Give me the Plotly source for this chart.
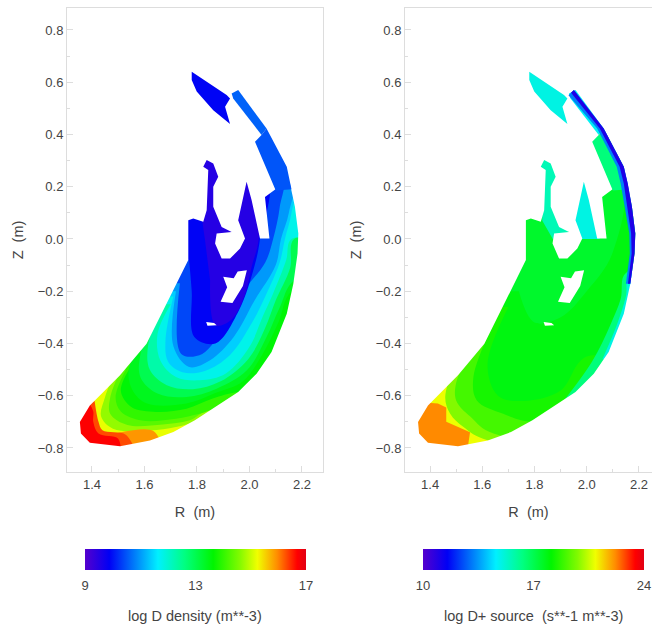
import plotly.graph_objects as go
from plotly.colors import sample_colorscale

W, H = 652, 629

RAINBOW = [
    [0.00, "rgb(85,0,205)"], [0.11, "rgb(0,0,245)"], [0.33, "rgb(0,240,255)"],
    [0.45, "rgb(0,255,130)"], [0.58, "rgb(0,245,0)"], [0.70, "rgb(130,250,0)"],
    [0.78, "rgb(240,255,0)"], [0.87, "rgb(255,140,0)"], [0.96, "rgb(255,0,0)"],
    [1.00, "rgb(225,0,20)"],
]

DENSITY_RANGE = [9, 17]
SOURCE_RANGE = [10, 24]
DENSITY_TICKS = [9, 13, 17]
SOURCE_TICKS = [10, 17, 24]
R_TICKS = [1.4, 1.6, 1.8, 2.0, 2.2]
Z_TICKS = [0.8, 0.6, 0.4, 0.2, 0.0, -0.2, -0.4, -0.6, -0.8]

# Outline of the plasma mesh (R, Z in metres), clockwise
OUTLINE_R = [2.154, 2.173, 2.186, 2.183, 2.167, 2.142, 2.084, 2.027, 1.957, 1.862, 1.792, 1.710, 1.621, 1.507,
             1.392, 1.358, 1.354, 1.392, 1.507, 1.608, 1.697, 1.767, 1.767, 1.786, 1.824, 1.837, 1.843, 1.824,
             1.837, 1.862, 1.881, 1.862, 1.862, 1.894, 1.932, 1.875, 1.869, 1.894, 1.926, 1.964, 1.983, 1.957,
             1.989, 2.008, 2.040, 2.076, 2.059, 2.103]
OUTLINE_Z = [0.212, 0.123, 0.021, -0.056, -0.171, -0.286, -0.433, -0.516, -0.586, -0.650, -0.694, -0.739, -0.771,
             -0.793, -0.780, -0.745, -0.701, -0.637, -0.522, -0.401, -0.222, -0.081, 0.072, 0.078, 0.066, 0.110,
             0.264, 0.276, 0.302, 0.289, 0.238, 0.200, 0.123, 0.046, 0.027, 0.021, -0.017, -0.075, -0.075, -0.037,
             0.002, 0.072, 0.219, 0.149, 0.002, 0.002, 0.161, 0.193]

HOLE_R = [1.955, 1.99, 1.975, 1.955, 1.935, 1.89, 1.915, 1.90, 1.94]
HOLE_Z = [-0.125, -0.12, -0.18, -0.21, -0.245, -0.24, -0.185, -0.145, -0.15]
SPOT_R = [1.835, 1.865, 1.875, 1.84]
SPOT_Z = [-0.318, -0.322, -0.33, -0.332]

TIP_R = [1.78, 1.913, 1.926, 1.907, 1.926, 1.862, 1.799, 1.78]
TIP_Z = [0.64, 0.551, 0.538, 0.506, 0.44, 0.493, 0.564, 0.608]
UPPER_R = [1.932, 1.957, 2.065, 2.046, 1.938]
UPPER_Z = [0.557, 0.57, 0.423, 0.398, 0.538]
LOWER_R = [2.046, 2.065, 2.142, 2.160, 2.100, 2.021]
LOWER_Z = [0.398, 0.423, 0.276, 0.190, 0.185, 0.372]

# Density isobands, painted from the outer level to the inner one
DENSITY_BASE = 15.2
DENSITY_LEVELS = [14.7, 14.3, 14.0, 13.6, 13.4, 13.0, 12.3, 11.8, 11.4, 11.0, 10.4, 9.9]
DENSITY_BAND_R = [
    [1.50, 1.45, 1.435, 1.48, 1.62, 1.72, 1.81, 1.87, 2.4, 2.4, 1.3, 1.3],
    [1.515, 1.47, 1.47, 1.535, 1.67, 1.77, 1.85, 2.4, 2.4, 1.3, 1.3],
    [1.53, 1.49, 1.51, 1.59, 1.72, 1.81, 1.88, 2.4, 2.4, 1.3, 1.3],
    [1.56, 1.51, 1.55, 1.645, 1.76, 1.86, 1.96, 2.4, 2.4, 1.3, 1.3],
    [1.60, 1.54, 1.555, 1.61, 1.76, 1.87, 1.975, 2.05, 2.11, 2.16, 2.4, 2.4, 1.3, 1.3],
    [1.65, 1.585, 1.585, 1.65, 1.76, 1.875, 1.99, 2.065, 2.116, 2.17, 2.4, 2.4, 1.3, 1.3],
    [1.67, 1.615, 1.62, 1.685, 1.785, 1.89, 1.995, 2.06, 2.10, 2.155, 2.17, 2.4, 2.4, 1.3, 1.3],
    [1.70, 1.65, 1.66, 1.72, 1.81, 1.91, 2.0, 2.05, 2.09, 2.14, 2.16, 2.4, 2.4, 1.3, 1.3],
    [1.71, 1.68, 1.69, 1.745, 1.83, 1.925, 2.01, 2.06, 2.115, 2.135, 2.16, 2.17, 1.3, 1.3],
    [1.72, 1.71, 1.77, 1.85, 1.94, 2.02, 2.10, 2.12, 2.15, 2.16, 1.3, 1.3],
    [1.735, 1.74, 1.82, 1.91, 1.985, 2.06, 2.09, 2.115, 2.12, 1.3, 1.3],
    [1.77, 1.78, 1.79, 1.87, 1.96, 2.02, 2.04, 2.06, 1.3, 1.3],
]
DENSITY_BAND_Z = [
    [-0.48, -0.605, -0.68, -0.726, -0.733, -0.72, -0.694, -0.66, -0.66, 0.4, 0.4, -0.48],
    [-0.49, -0.605, -0.67, -0.712, -0.71, -0.695, -0.655, -0.655, 0.4, 0.4, -0.49],
    [-0.50, -0.605, -0.66, -0.695, -0.688, -0.669, -0.65, -0.65, 0.4, 0.4, -0.50],
    [-0.47, -0.58, -0.643, -0.662, -0.65, -0.611, -0.586, -0.586, 0.4, 0.4, -0.47],
    [-0.38, -0.50, -0.58, -0.63, -0.63, -0.59, -0.545, -0.44, -0.32, -0.2, -0.12, 0.4, 0.4, -0.38],
    [-0.28, -0.44, -0.53, -0.592, -0.605, -0.573, -0.503, -0.375, -0.26, -0.158, -0.1, 0.4, 0.4, -0.28],
    [-0.26, -0.40, -0.50, -0.56, -0.575, -0.545, -0.46, -0.34, -0.235, -0.11, 0.0, 0.0, 0.4, 0.4, -0.26],
    [-0.25, -0.362, -0.464, -0.528, -0.541, -0.515, -0.413, -0.298, -0.209, -0.08, 0.0, 0.0, 0.4, 0.4, -0.25],
    [-0.22, -0.39, -0.47, -0.51, -0.505, -0.445, -0.32, -0.22, -0.09, 0.0, 0.1, 0.25, 0.25, -0.22],
    [-0.2, -0.41, -0.49, -0.464, -0.375, -0.235, -0.10, 0.0, 0.1, 0.25, 0.25, -0.2],
    [-0.17, -0.44, -0.44, -0.324, -0.19, -0.09, 0.0, 0.12, 0.25, 0.25, -0.17],
    [-0.08, -0.2, -0.375, -0.40, -0.273, -0.10, 0.0, 0.25, 0.25, -0.08],
]
DENSITY_CORE = 9.5
DENSITY_CORE_R = [1.85, 1.87, 1.93, 1.98, 2.01, 2.035, 2.02, 1.83, 1.83]
DENSITY_CORE_Z = [-0.16, -0.33, -0.31, -0.22, -0.1, 0.0, 0.25, 0.32, 0.0]
DENSITY_RED = [15.9, 16.3, 16.7]
DENSITY_RED_R = [[1.50, 1.634, 1.66, 1.48],
                 [1.41, 1.425, 1.44, 1.53, 1.56, 1.30, 1.30],
                 [1.39, 1.405, 1.405, 1.425, 1.50, 1.50, 1.30, 1.30]]
DENSITY_RED_Z = [[-0.742, -0.735, -0.80, -0.83],
                 [-0.62, -0.70, -0.732, -0.75, -0.83, -0.83, -0.66],
                 [-0.63, -0.66, -0.70, -0.745, -0.765, -0.83, -0.83, -0.66]]
DENSITY_TIP, DENSITY_UPPER, DENSITY_LOWER = 9.9, 10.6, 10.5

# Source isobands
SOURCE_BASE = 20.9
SOURCE_LEVELS = [19.8, 19.0, 18.4, 17.9, 17.5]
SOURCE_BAND_R = [
    [1.50, 1.458, 1.477, 1.528, 1.62, 2.4, 2.4, 1.3, 1.3],
    [1.55, 1.50, 1.50, 1.554, 1.643, 2.4, 2.4, 1.3, 1.3],
    [1.64, 1.566, 1.579, 1.68, 1.784, 2.4, 2.4, 1.3, 1.3],
    [1.70, 1.62, 1.66, 1.76, 1.9, 2.0, 2.4, 2.4, 1.3, 1.3],
    [1.74, 1.80, 1.9, 2.0, 2.1, 2.12, 1.3, 1.3],
]
SOURCE_BAND_Z = [
    [-0.47, -0.605, -0.669, -0.72, -0.77, -0.77, 0.4, 0.4, -0.47],
    [-0.44, -0.55, -0.618, -0.68, -0.745, -0.745, 0.4, 0.4, -0.44],
    [-0.33, -0.528, -0.618, -0.669, -0.70, -0.70, 0.4, 0.4, -0.33],
    [-0.26, -0.48, -0.60, -0.62, -0.58, -0.45, -0.5, 0.4, 0.4, -0.26],
    [-0.2, -0.32, -0.3, -0.2, -0.05, 0.25, 0.25, -0.2],
]
SOURCE_RIM_LEVELS = [16.4, 15.0]
SOURCE_RIM_R = [[1.88, 2.02, 2.09, 2.13, 2.15, 2.4, 2.4],
                [2.06, 2.115, 2.15, 2.165, 2.4, 2.4]]
SOURCE_RIM_Z = [[-0.66, -0.47, -0.33, -0.23, -0.13, -0.13, -0.66],
                [-0.46, -0.33, -0.22, -0.13, -0.13, -0.46]]
SOURCE_ORANGE = [22.2]
SOURCE_ORANGE_R = [[1.43, 1.462, 1.462, 1.553, 1.54, 1.30, 1.30]]
SOURCE_ORANGE_Z = [[-0.63, -0.645, -0.70, -0.74, -0.83, -0.83, -0.62]]
SOURCE_STRIPE = 15.6
STRIPE_R = [1.82, 1.89, 1.90, 1.94, 1.87, 1.83]
STRIPE_Z = [0.32, 0.28, 0.10, 0.0, 0.0, 0.07]
SOURCE_SPIKE = 15.0
SPIKE_R = [1.94, 1.99, 2.03, 2.05, 1.96]
SPIKE_Z = [0.10, 0.23, 0.08, 0.0, 0.0]
SOURCE_TIP, SOURCE_UPPER, SOURCE_LOWER = 15.0, 14.8, 16.4
SOURCE_EDGE_LEVELS = [13.2, 11.0]
SOURCE_EDGE_R = [
    [1.951, 2.065, 2.142, 2.157, 2.173, 2.186, 2.183, 2.167, 2.15, 2.165, 2.163, 2.146, 2.130, 2.115, 2.04, 1.93],
    [1.951, 2.065, 2.142, 2.157, 2.173, 2.186, 2.183, 2.167, 2.158, 2.172, 2.170, 2.155, 2.142, 2.126, 2.05, 1.94],
]
SOURCE_EDGE_Z = [
    [0.57, 0.423, 0.276, 0.212, 0.123, 0.021, -0.056, -0.171, -0.171, -0.056, 0.021, 0.123, 0.212, 0.276, 0.423, 0.55],
    [0.57, 0.423, 0.276, 0.212, 0.123, 0.021, -0.056, -0.171, -0.171, -0.056, 0.021, 0.123, 0.212, 0.276, 0.423, 0.56],
]

PAGE_R = [1.2, 2.4, 2.4, 1.2, 1.2]
PAGE_Z = [-1.0, -1.0, 1.0, 1.0, -1.0]


def colour(value, rng):
    return sample_colorscale(RAINBOW, [(value - rng[0]) / (rng[1] - rng[0])])[0]


def area(fig, rs, zs, fill, col, smooth=True):
    fig.add_trace(go.Scatter(
        x=rs, y=zs, mode="lines", fill="toself", fillcolor=fill,
        line=dict(width=0, color=fill, shape="spline" if smooth else "linear", smoothing=1.0),
        hoverinfo="skip", showlegend=False,
        xaxis="x" if col == 1 else "x2", yaxis="y" if col == 1 else "y2",
    ))


def mask(fig, col):
    rs = PAGE_R + [None] + OUTLINE_R + [OUTLINE_R[0]]
    zs = PAGE_Z + [None] + OUTLINE_Z + [OUTLINE_Z[0]]
    area(fig, rs, zs, "white", col, smooth=False)


fig = go.Figure()

# ---- density panel
area(fig, PAGE_R, PAGE_Z, colour(DENSITY_BASE, DENSITY_RANGE), 1, False)
for level, rs, zs in zip(DENSITY_LEVELS, DENSITY_BAND_R, DENSITY_BAND_Z):
    area(fig, rs, zs, colour(level, DENSITY_RANGE), 1)
for level, rs, zs in zip(DENSITY_RED, DENSITY_RED_R, DENSITY_RED_Z):
    area(fig, rs, zs, colour(level, DENSITY_RANGE), 1)
area(fig, DENSITY_CORE_R, DENSITY_CORE_Z, colour(DENSITY_CORE, DENSITY_RANGE), 1)
mask(fig, 1)
area(fig, HOLE_R, HOLE_Z, "white", 1, False)
area(fig, SPOT_R, SPOT_Z, "white", 1, False)
area(fig, TIP_R, TIP_Z, colour(DENSITY_TIP, DENSITY_RANGE), 1, False)
area(fig, UPPER_R, UPPER_Z, colour(DENSITY_UPPER, DENSITY_RANGE), 1, False)
area(fig, LOWER_R, LOWER_Z, colour(DENSITY_LOWER, DENSITY_RANGE), 1, False)

# ---- source panel
area(fig, PAGE_R, PAGE_Z, colour(SOURCE_BASE, SOURCE_RANGE), 2, False)
for level, rs, zs in zip(SOURCE_LEVELS, SOURCE_BAND_R, SOURCE_BAND_Z):
    area(fig, rs, zs, colour(level, SOURCE_RANGE), 2)
for level, rs, zs in zip(SOURCE_ORANGE, SOURCE_ORANGE_R, SOURCE_ORANGE_Z):
    area(fig, rs, zs, colour(level, SOURCE_RANGE), 2, False)
for level, rs, zs in zip(SOURCE_RIM_LEVELS, SOURCE_RIM_R, SOURCE_RIM_Z):
    area(fig, rs, zs, colour(level, SOURCE_RANGE), 2)
area(fig, STRIPE_R, STRIPE_Z, colour(SOURCE_STRIPE, SOURCE_RANGE), 2, False)
area(fig, SPIKE_R, SPIKE_Z, colour(SOURCE_SPIKE, SOURCE_RANGE), 2, False)
mask(fig, 2)
area(fig, HOLE_R, HOLE_Z, "white", 2, False)
area(fig, SPOT_R, SPOT_Z, "white", 2, False)
area(fig, TIP_R, TIP_Z, colour(SOURCE_TIP, SOURCE_RANGE), 2, False)
area(fig, UPPER_R, UPPER_Z, colour(SOURCE_UPPER, SOURCE_RANGE), 2, False)
area(fig, LOWER_R, LOWER_Z, colour(SOURCE_LOWER, SOURCE_RANGE), 2, False)
for level, rs, zs in zip(SOURCE_EDGE_LEVELS, SOURCE_EDGE_R, SOURCE_EDGE_Z):
    area(fig, rs, zs, colour(level, SOURCE_RANGE), 2, False)

# ---- colour bars (carried by two empty scatter traces)
FONT = dict(family="Liberation Sans, Arial, sans-serif", size=13, color="#444444")
TITLE_FONT = dict(FONT, size=14.5)


def colourbar_trace(rng, ticks, x_px, axis):
    return go.Scatter(
        x=[None, None], y=[None, None], mode="markers", xaxis=axis[0], yaxis=axis[1],
        showlegend=False, hoverinfo="skip",
        marker=dict(
            color=rng, cmin=rng[0], cmax=rng[1], colorscale=RAINBOW, showscale=True,
            colorbar=dict(
                orientation="h", x=x_px / W, xanchor="left", y=1 - 549 / H, yanchor="top",
                len=221, lenmode="pixels", thickness=21, thicknessmode="pixels",
                outlinewidth=0, xpad=0, ypad=0, tickmode="array", tickvals=ticks,
                ticktext=[str(t) for t in ticks], ticks="outside", ticklen=5, tickcolor="white", tickfont=FONT,
            ),
        ),
    )


fig.add_trace(colourbar_trace(DENSITY_RANGE, DENSITY_TICKS, 85, ("x", "y")))
fig.add_trace(colourbar_trace(SOURCE_RANGE, SOURCE_TICKS, 423, ("x2", "y2")))

GRID = "#dddddd"
common = dict(showline=True, linecolor=GRID, linewidth=1, mirror=True, showgrid=False, zeroline=False,
              ticks="inside", tickcolor=GRID, ticklen=6, tickfont=FONT)
minor = dict(ticks="inside", ticklen=3, tickcolor=GRID, dtick=0.1, showgrid=False)

ylow, yhigh = 1 - 472 / H, 1 - 8 / H
fig.update_layout(
    width=W, height=H, margin=dict(l=0, r=0, t=0, b=0), paper_bgcolor="white", plot_bgcolor="white",
    showlegend=False, font=FONT,
    xaxis=dict(domain=[67 / W, 323 / W], range=[1.305, 2.28], tickvals=R_TICKS, tickformat=".1f", minor=minor,
               title=dict(text="R  (m)", font=TITLE_FONT, standoff=16), **common),
    yaxis=dict(domain=[ylow, yhigh], range=[-0.892, 0.884], tickvals=Z_TICKS, tickformat=".1f", minor=minor,
               title=dict(text="Z  (m)", font=TITLE_FONT, standoff=10), **common),
    xaxis2=dict(domain=[405 / W, 1.0], range=[1.304, 2.25], tickvals=R_TICKS, tickformat=".1f", minor=minor,
                anchor="y2", title=dict(text="R  (m)", font=TITLE_FONT, standoff=16), **common),
    yaxis2=dict(domain=[ylow, yhigh], range=[-0.892, 0.884], tickvals=Z_TICKS, tickformat=".1f", minor=minor,
                anchor="x2", title=dict(text="Z  (m)", font=TITLE_FONT, standoff=10), **common),
    annotations=[
        dict(text="log D density (m**-3)", x=195 / W, y=1 - 616 / H, xref="paper", yref="paper",
             showarrow=False, font=TITLE_FONT, xanchor="center", yanchor="middle"),
        dict(text="log D+ source  (s**-1 m**-3)", x=533 / W, y=1 - 616 / H, xref="paper", yref="paper",
             showarrow=False, font=TITLE_FONT, xanchor="center", yanchor="middle"),
    ],
)

fig.write_html("out.html", config={"displayModeBar": False},
               post_script="document.body.style.margin='0';document.body.style.overflow='hidden';")
